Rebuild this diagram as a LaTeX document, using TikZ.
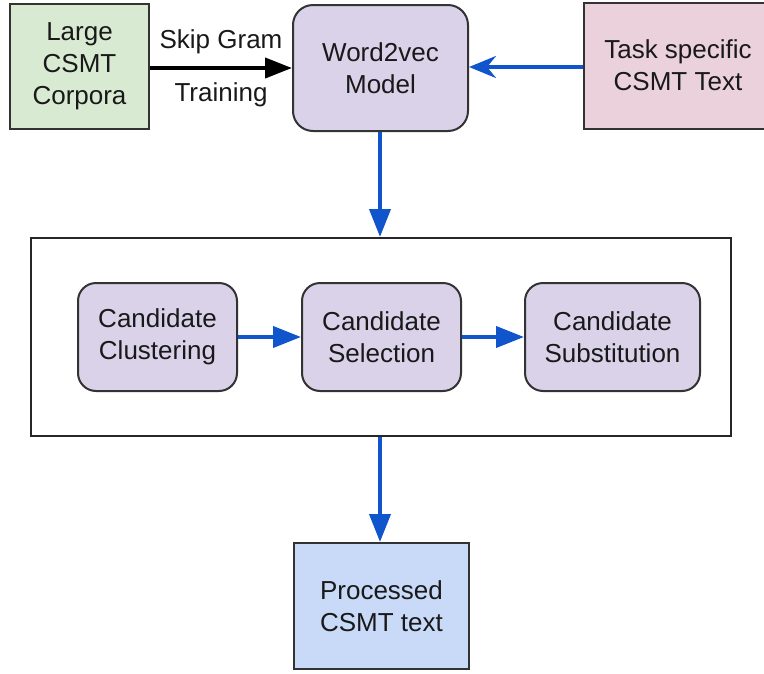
\documentclass[tikz,border=0pt]{standalone}
\usepackage{fontspec}
\setmainfont{Liberation Sans}
\usetikzlibrary{arrows.meta}
\definecolor{boxline}{HTML}{333333}
\definecolor{greenfill}{HTML}{D9EAD3}
\definecolor{lavfill}{HTML}{D9D2E9}
\definecolor{pinkfill}{HTML}{EAD1DC}
\definecolor{bluefill}{HTML}{C9DAF8}
\definecolor{flowblue}{HTML}{1155CC}
\tikzset{
  base/.style={draw=boxline, line width=2pt, align=center, inner sep=0pt,
    font=\fontsize{26pt}{32pt}\selectfont, text=black!90},
  sqbox/.style={base},
  rbox/.style={base, rounded corners=20pt},
  frame/.style={draw=black!85, line width=2pt, fill=white},
  flow/.style={draw=flowblue, line width=4pt,
    -{Triangle[length=28pt,width=21pt]}},
  feed/.style={draw=flowblue, line width=4pt,
    -{Stealth[length=27pt,width=22pt,inset=9pt]}},
  train/.style={draw=black, line width=4pt,
    -{Triangle[length=27pt,width=20pt]}},
  lbl/.style={font=\fontsize{26pt}{32pt}\selectfont, text=black!90, inner sep=0pt}
}
\begin{document}
\begin{tikzpicture}[x=1pt,y=-1pt]
  \useasboundingbox (0,0) rectangle (764,673);
  \clip (0,0) rectangle (764,673);

  % top row
  \node[sqbox, fill=greenfill, minimum width=139pt, minimum height=125pt]
    (corpus) at (79.5,66) {Large\\CSMT\\Corpora};
  \node[rbox, fill=lavfill, minimum width=175pt, minimum height=126pt]
    (w2v) at (380.5,68) {Word2vec\\Model};
  \node[sqbox, fill=pinkfill, minimum width=188pt, minimum height=126pt]
    (task) at (678,65.5) {Task specific\\CSMT Text};

  % processing stage
  \node[frame, minimum width=700pt, minimum height=198pt]
    (stage) at (381,337) {};
  \node[rbox, rounded corners=18pt, fill=lavfill, minimum width=159pt, minimum height=108pt]
    (clus) at (157.5,337) {Candidate\\Clustering};
  \node[rbox, rounded corners=18pt, fill=lavfill, minimum width=159pt, minimum height=108pt]
    (sel) at (381.5,337) {Candidate\\Selection};
  \node[rbox, rounded corners=18pt, fill=lavfill, minimum width=175pt, minimum height=108pt]
    (sub) at (612.5,337) {Candidate\\Substitution};

  % output
  \node[sqbox, fill=bluefill, minimum width=175pt, minimum height=126pt]
    (out) at (381.5,606) {Processed\\CSMT text};

  % connectors
  \coordinate (trainEnd) at (w2v.west |- 0,68);
  \draw[train] (corpus.east |- trainEnd) -- (trainEnd)
    node[lbl, midway, above=12pt] {Skip Gram}
    node[lbl, midway, below=13pt] {Training};
  \draw[feed] (task.west |- 0,67) -- (w2v.east |- 0,67);
  \draw[flow] (w2v.south -| 380,0) -- (stage.north -| 380,0);
  \draw[flow] (clus) -- (sel);
  \draw[flow] (sel) -- (sub);
  \draw[flow] (stage.south -| 380,0) -- (out.north -| 380,0);
\end{tikzpicture}
\end{document}
